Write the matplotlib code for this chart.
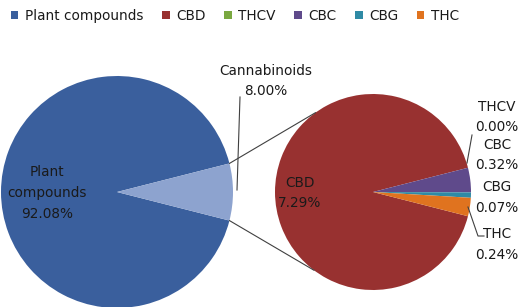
import matplotlib
matplotlib.use("Agg")
import matplotlib.pyplot as plt
import numpy as np

# ---- data ----
main_labels = ["Plant compounds", "Cannabinoids"]
main_values = [92.08, 7.92]
main_texts = ["Plant\ncompounds\n92.08%", "Cannabinoids\n8.00%"]

sub_labels = ["CBD", "THCV", "CBC", "CBG", "THC"]
sub_values = [7.29, 0.00, 0.32, 0.07, 0.24]
sub_texts = ["CBD\n7.29%", "THCV\n0.00%", "CBC\n0.32%", "CBG\n0.07%", "THC\n0.24%"]

main_colors = ["#3A5F9D", "#8DA3CF"]
sub_colors = ["#983130", "#7AA840", "#5F4A8B", "#2F8AA5", "#E0731F"]

W, H = 523, 307
fig = plt.figure(figsize=(W / 100, H / 100), dpi=100)
ax = fig.add_axes([0, 0, 1, 1])

# geometry (pixel-like units, y up)
c1 = (117, H - 192); r1 = 116
c2 = (373, H - 192); r2 = 98

small_share = sum(main_values[1:]) / sum(main_values) * 360.0
w1, _ = ax.pie(main_values, colors=main_colors, center=c1, radius=r1,
               startangle=small_share / 2, counterclock=True,
               wedgeprops=dict(linewidth=0))
sub_other = sum(sub_values[1:]) / sum(sub_values) * 360.0
w2, _ = ax.pie(sub_values, colors=sub_colors, center=c2, radius=r2,
               startangle=-sub_other / 2, counterclock=False,
               wedgeprops=dict(linewidth=0))

ax.set_xlim(0, W)
ax.set_ylim(0, H)
ax.set_aspect("equal")
ax.axis("off")

# connector lines between pies
lc = "#404040"
a_top = np.deg2rad(small_share / 2)
a_bot = np.deg2rad(-small_share / 2)
p_top = (c1[0] + r1 * np.cos(a_top), c1[1] + r1 * np.sin(a_top))
p_bot = (c1[0] + r1 * np.cos(a_bot), c1[1] + r1 * np.sin(a_bot))
q_top = (c2[0] + r2 * np.cos(np.deg2rad(126)), c2[1] + r2 * np.sin(np.deg2rad(126)))
q_bot = (c2[0] + r2 * np.cos(np.deg2rad(-127)), c2[1] + r2 * np.sin(np.deg2rad(-127)))
ax.plot([p_top[0], q_top[0]], [p_top[1], q_top[1]], color=lc, lw=0.8)
ax.plot([p_bot[0], q_bot[0]], [p_bot[1], q_bot[1]], color=lc, lw=0.8)

tc = "#1a1a1a"
fs = 9.8
ls = 1.6
ff = "DejaVu Sans"
# labels on main pie
ax.text(47, H - 193, main_texts[0], ha="center", va="center", fontsize=fs,
        color=tc, family=ff, linespacing=ls)
ax.text(266, H - 81, main_texts[1], ha="center", va="center", fontsize=fs,
        color=tc, family=ff, linespacing=ls)
ax.plot([240, 237], [H - 97, H - 190], color=lc, lw=0.8)

# labels on sub pie
ax.text(300, H - 193, sub_texts[0], ha="center", va="center", fontsize=fs,
        color=tc, family=ff, linespacing=ls)
ys = [117, 155, 197.5, 244.5]
for t, y in zip(sub_texts[1:], ys):
    ax.text(497, H - y, t, ha="center", va="center", fontsize=fs,
            color=tc, family=ff, linespacing=ls)
ax.plot([472, 467], [H - 135, H - 163], color=lc, lw=0.8)
ax.plot([468, 478, 484], [H - 207, H - 236, H - 236], color=lc, lw=0.8)

# legend
handles = [w1[0]] + list(w2)
labels = [main_labels[0]] + sub_labels
fig.legend(handles, labels, loc="upper left", bbox_to_anchor=(0.004, 1.0),
           ncol=6, frameon=False, handlelength=0.55,
           handleheight=0.55, handletextpad=0.5, columnspacing=1.35,
           borderaxespad=0.25, prop={"family": ff, "size": fs})
for t in fig.legends[0].get_texts():
    t.set_color(tc)

fig.savefig("out.png", dpi=100)
